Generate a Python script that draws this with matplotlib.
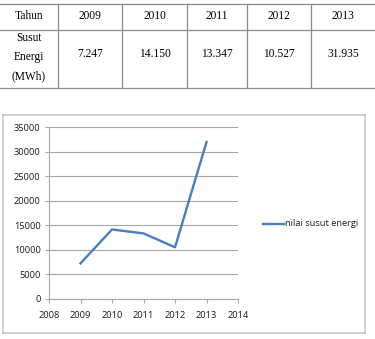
import matplotlib.pyplot as plt
from matplotlib.lines import Line2D

# data
tahun = [2009, 2010, 2011, 2012, 2013]
susut_energi = [7247, 14150, 13347, 10527, 31935]
susut_label = ["7.247", "14.150", "13.347", "10.527", "31.935"]
x_ticks = [2008, 2009, 2010, 2011, 2012, 2013, 2014]
y_ticks = [0, 5000, 10000, 15000, 20000, 25000, 30000, 35000]
series_name = "nilai susut energi"

W, H = 375, 339
fig = plt.figure(figsize=(W / 100, H / 100), dpi=100)


def px(x, y):
    # pixel coords (top-left origin) -> figure fraction
    return x / W, 1 - y / H


def hline(x0, x1, y, color="#8c8c8c", lw=0.9):
    (a, b), (c, d) = px(x0, y), px(x1, y)
    fig.add_artist(Line2D([a, c], [b, d], color=color, lw=lw, transform=fig.transFigure))


def vline(x, y0, y1, color="#8c8c8c", lw=0.9):
    (a, b), (c, d) = px(x, y0), px(x, y1)
    fig.add_artist(Line2D([a, c], [b, d], color=color, lw=lw, transform=fig.transFigure))


# --- table on top ---
serif = "Liberation Serif"
tfs = 8.3
hline(0, 375, 4)
hline(0, 375, 30)
hline(0, 375, 88)
col_edges = [0, 58, 122, 187, 247, 311, 375]
for xe in col_edges[1:-1]:
    vline(xe, 4, 88)

fig.text(*px(29, 16), "Tahun", ha="center", va="center", family=serif, fontsize=tfs)
for i, (t, v) in enumerate(zip(tahun, susut_label)):
    cx = (col_edges[i + 1] + col_edges[i + 2]) / 2
    fig.text(*px(cx, 16), str(t), ha="center", va="center", family=serif, fontsize=tfs)
    fig.text(*px(cx, 54), v, ha="center", va="center", family=serif, fontsize=tfs)
for label, yy in zip(["Susut", "Energi", "(MWh)"], [38, 57, 76]):
    fig.text(*px(29, yy), label, ha="center", va="center", family=serif, fontsize=tfs)

# --- chart frame ---
hline(3, 365, 115, color="#c8c8c8", lw=1.2)
hline(3, 365, 333, color="#c8c8c8", lw=1.2)
vline(3, 115, 333, color="#c8c8c8", lw=1.2)
vline(365, 115, 333, color="#c8c8c8", lw=1.2)

left, top = px(49, 127)
right, bottom = px(238, 299)
ax = fig.add_axes([left, bottom, right - left, top - bottom])

line_color = "#4a7ebb"
ax.plot(tahun, susut_energi, color=line_color, lw=1.7, label=series_name)

ax.set_xlim(2008, 2014)
ax.set_ylim(0, 35000)
ax.set_xticks(x_ticks)
ax.set_yticks(y_ticks)
ax.grid(axis="y", color="#a6a6a6", lw=0.8)
ax.set_axisbelow(True)
for s in ["top", "right"]:
    ax.spines[s].set_visible(False)
for s in ["left", "bottom"]:
    ax.spines[s].set_color("#a6a6a6")
    ax.spines[s].set_linewidth(0.8)

sans = "Open Sans"
ax.tick_params(axis="both", colors="#a6a6a6", length=3, width=0.8, labelsize=6.7,
               labelcolor="#1a1a1a")
for lbl in ax.get_xticklabels() + ax.get_yticklabels():
    lbl.set_family(sans)
ax.tick_params(axis="x", pad=6)
ax.tick_params(axis="y", pad=3)

# legend drawn by hand to the right
fig.add_artist(Line2D([px(263, 0)[0], px(284, 0)[0]], [px(0, 224)[1]] * 2,
                      color=line_color, lw=1.7, transform=fig.transFigure))
fig.text(*px(285, 224), series_name, ha="left", va="center", family=sans, fontsize=6.7,
         color="#1a1a1a")

fig.savefig("out.png", dpi=100)
